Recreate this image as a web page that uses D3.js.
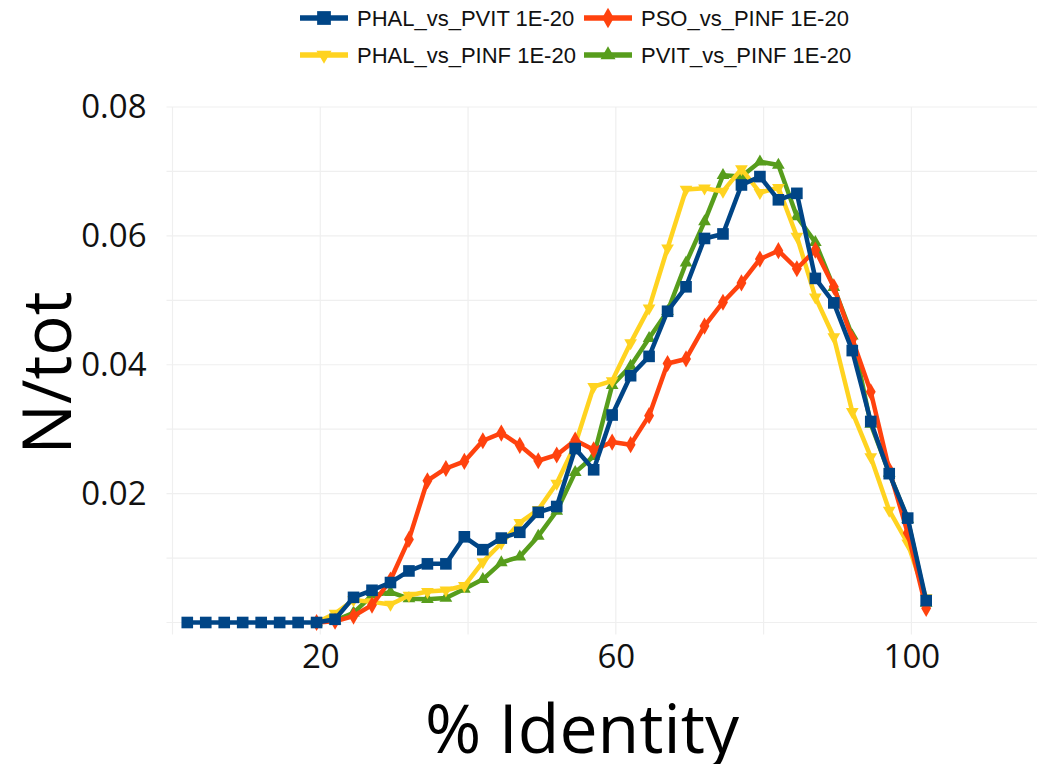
<!DOCTYPE html>
<html>
<head>
<meta charset="utf-8">
<script src="https://cdn.jsdelivr.net/npm/d3@7"></script>
<style>
  body { margin: 0; background: #fff; }
  svg { display: block; }
</style>
</head>
<body>
<svg id="chart" width="1051" height="764"></svg>
<script>
// % identity bins (x values of every point)
var identity = [2, 4.5, 7, 9.5, 12, 14.5, 17, 19.5, 22, 24.5, 27, 29.5, 32, 34.5, 37, 39.5,
  42, 44.5, 47, 49.5, 52, 54.5, 57, 59.5, 62, 64.5, 67, 69.5, 72, 74.5, 77, 79.5,
  82, 84.5, 87, 89.5, 92, 94.5, 97, 99.5, 102];

var phalPvit = [0, 0, 0, 0, 0, 0, 0, 0, 0.0005, 0.0039, 0.0050, 0.0062, 0.0080, 0.0091, 0.0091, 0.0133,
  0.0113, 0.0131, 0.0140, 0.0171, 0.0180, 0.0270, 0.0237, 0.0322, 0.0383, 0.0413, 0.0483, 0.0521, 0.0596, 0.0603, 0.0679, 0.0692,
  0.0656, 0.0666, 0.0534, 0.0496, 0.0422, 0.0312, 0.0231, 0.0162, 0.0034];

var psoPinf = [null, null, null, null, null, null, null, 0, 0.0002, 0.0010, 0.0027, 0.0066, 0.0129, 0.0220, 0.0239, 0.0250,
  0.0282, 0.0294, 0.0275, 0.0251, 0.0260, 0.0283, 0.0268, 0.0280, 0.0276, 0.0321, 0.0402, 0.0409, 0.0460, 0.0497, 0.0527, 0.0564,
  0.0577, 0.0549, 0.0578, 0.0521, 0.0440, 0.0358, 0.0237, 0.0139, 0.0022];

var phalPinf = [null, null, null, null, null, null, null, 0, 0.0014, 0.0035, 0.0032, 0.0028, 0.0042, 0.0048, 0.0050, 0.0057,
  0.0094, 0.0123, 0.0155, 0.0175, 0.0216, 0.0276, 0.0366, 0.0375, 0.0434, 0.0488, 0.0581, 0.0672, 0.0674, 0.0669, 0.0704, 0.0667,
  0.0675, 0.0599, 0.0505, 0.0443, 0.0327, 0.0257, 0.0174, 0.0123, 0.0038];

var pvitPinf = [null, null, null, null, null, null, null, 0, 0.0003, 0.0015, 0.0042, 0.0047, 0.0037, 0.0036, 0.0038, 0.0052,
  0.0067, 0.0093, 0.0102, 0.0134, 0.0173, 0.0233, 0.0258, 0.0368, 0.0398, 0.0441, 0.0483, 0.0558, 0.0622, 0.0694, 0.0692, 0.0715,
  0.0710, 0.0630, 0.0590, 0.0520, 0.0445, 0.0308, 0.0232, 0.0160, 0.0030];

var seriesNames = ["PHAL_vs_PVIT 1E-20", "PSO_vs_PINF 1E-20", "PHAL_vs_PINF 1E-20", "PVIT_vs_PINF 1E-20"];
var xTickLabels = [20, 60, 100];
var yTickLabels = [0.02, 0.04, 0.06, 0.08];

var svg = d3.select("#chart");

var plotLeft = 172.5, plotRight = 1037, plotTop = 107, plotBottom = 622.5;

const x = d3.scaleLinear().domain([0, 117]).range([plotLeft, plotRight]);
const y = d3.scaleLinear().domain([0, 0.08]).range([plotBottom, plotTop]);

var series = [
  { name: seriesNames[0], values: phalPvit, color: "#004586", symbol: d3.symbolSquare, size: 135, rot: 0 },
  { name: seriesNames[1], values: psoPinf, color: "#ff420e", symbol: d3.symbolDiamond, size: 85, rot: 0 },
  { name: seriesNames[2], values: phalPinf, color: "#ffd320", symbol: d3.symbolTriangle, size: 70, rot: 180 },
  { name: seriesNames[3], values: pvitPinf, color: "#579d1c", symbol: d3.symbolTriangle, size: 70, rot: 0 }
];

// grid
var grid = svg.append("g");
grid.selectAll(".hg")
  .data(d3.range(0, 9).map(function(i) { return i * 0.01; }))
  .enter().append("line")
  .attr("x1", plotLeft - 6).attr("x2", plotRight)
  .attr("y1", function(d) { return y(d); })
  .attr("y2", function(d) { return y(d); })
  .attr("stroke", "#efefef").attr("stroke-width", 1.2);

grid.selectAll(".vg")
  .data([0, 20, 40, 60, 80, 100])
  .enter().append("line")
  .attr("x1", function(d) { return x(d); })
  .attr("x2", function(d) { return x(d); })
  .attr("y1", plotTop).attr("y2", plotBottom + 12)
  .attr("stroke", "#efefef").attr("stroke-width", 1.2);

// axes labels
var yAxis = d3.axisLeft(y).tickValues(yTickLabels).tickSize(0).tickPadding(26)
  .tickFormat(d3.format(".2f"));
svg.append("g").attr("transform", "translate(" + plotLeft + ",0)").call(yAxis)
  .call(function(g) { g.select(".domain").remove(); })
  .selectAll("text")
  .attr("font-family", "Open Sans").attr("font-size", 33).attr("fill", "#111");

var xAxis = d3.axisBottom(x).tickValues(xTickLabels).tickSize(0).tickPadding(22);
svg.append("g").attr("transform", "translate(0," + plotBottom + ")").call(xAxis)
  .call(function(g) { g.select(".domain").remove(); })
  .selectAll("text")
  .attr("font-family", "Open Sans").attr("font-size", 33).attr("fill", "#111");

// titles
svg.append("text")
  .attr("transform", "translate(71,373) rotate(-90)")
  .attr("text-anchor", "middle")
  .attr("font-family", "Open Sans").attr("font-size", 67).attr("fill", "#000")
  .text("N/tot");

svg.append("text")
  .attr("x", 582).attr("y", 753)
  .attr("text-anchor", "middle")
  .attr("font-family", "Open Sans").attr("font-size", 68).attr("fill", "#000")
  .text("% Identity");

// lines, drawn so the first series ends on top
const line = d3.line()
  .defined(function(d) { return d != null; })
  .x(function(d, i) { return x(identity[i]); })
  .y(function(d) { return y(d); });

var drawOrder = [series[3], series[2], series[1], series[0]];

drawOrder.forEach(function(s) {
  var g = svg.append("g");
  g.append("path")
    .attr("d", line(s.values))
    .attr("fill", "none")
    .attr("stroke", s.color)
    .attr("stroke-width", 4.5)
    .attr("stroke-linejoin", "round");
  var pts = s.values.map(function(v, i) { return { x: identity[i], v: v }; })
    .filter(function(p) { return p.v != null; });
  g.selectAll("path.m").data(pts).enter().append("path")
    .attr("class", "m")
    .attr("d", d3.symbol().type(s.symbol).size(s.size))
    .attr("transform", function(p) {
      return "translate(" + x(p.x) + "," + y(p.v) + ") rotate(" + s.rot + ")";
    })
    .attr("fill", s.color);
});

// legend
var legendPos = [[300, 18], [584, 18], [300, 55], [584, 55]];
series.forEach(function(s, i) {
  var lg = svg.append("g").attr("transform", "translate(" + legendPos[i][0] + "," + legendPos[i][1] + ")");
  lg.append("line").attr("x1", 0).attr("x2", 48).attr("y1", 0).attr("y2", 0)
    .attr("stroke", s.color).attr("stroke-width", 5.5);
  lg.append("path")
    .attr("d", d3.symbol().type(s.symbol).size(s.size * 1.4))
    .attr("transform", "translate(24,0) rotate(" + s.rot + ")")
    .attr("fill", s.color);
  lg.append("text")
    .attr("x", 57).attr("y", 0).attr("dy", "0.35em")
    .attr("font-family", "Liberation Sans").attr("font-size", 22).attr("fill", "#111")
    .text(s.name);
});
</script>
</body>
</html>
